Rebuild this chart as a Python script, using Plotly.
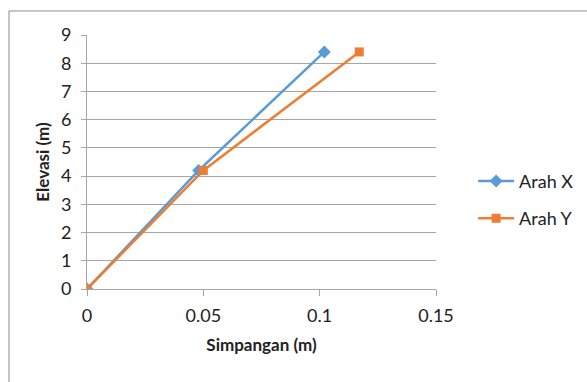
import plotly.graph_objects as go

x_arah_x = [0, 0.048, 0.102]
y_arah_x = [0, 4.2, 8.4]
x_arah_y = [0, 0.050, 0.117]
y_arah_y = [0, 4.2, 8.4]
x_ticks = [0, 0.05, 0.1, 0.15]
x_tick_labels = ["0", "0.05", "0.1", "0.15"]
y_ticks = list(range(0, 10))

FONT = "Lato"
fig = go.Figure()
fig.add_trace(go.Scatter(x=x_arah_x, y=y_arah_x, name="Arah X", mode="lines+markers",
                         line=dict(color="#5B9BD5", width=2.5),
                         marker=dict(symbol="diamond", size=10, color="#5B9BD5"),
                         legendgroup="a"))
fig.add_trace(go.Scatter(x=x_arah_y, y=y_arah_y, name="Arah Y", mode="lines+markers",
                         line=dict(color="#ED7D31", width=2.5),
                         marker=dict(symbol="square", size=9, color="#ED7D31"),
                         legendgroup="b"))

fig.update_layout(
    width=587, height=382,
    margin=dict(l=87, r=151, t=35, b=93),
    paper_bgcolor="white", plot_bgcolor="white",
    font=dict(family=FONT, size=17, color="#222"),
    legend=dict(xref="container", yref="container", x=0.806, y=0.574,
                xanchor="left", yanchor="top",
                traceorder="grouped", tracegroupgap=11,
                font=dict(family=FONT, size=18, color="#222"),
                itemwidth=36),
    xaxis=dict(range=[0, 0.15], tickvals=x_ticks, ticktext=x_tick_labels,
               showgrid=False, zeroline=False, showline=True, linecolor="#A6A6A6",
               linewidth=1, ticks="outside", ticklen=6, tickcolor="#A6A6A6",
               ticklabelstandoff=4,
               title=dict(text="<b>Simpangan (m)</b>", font=dict(family=FONT, size=17), standoff=14),
               tickfont=dict(family=FONT, size=18), fixedrange=True),
    yaxis=dict(range=[0, 9], tickvals=y_ticks,
               showgrid=True, gridcolor="#A6A6A6", gridwidth=1,
               zeroline=False, showline=True, linecolor="#A6A6A6", linewidth=1,
               ticks="outside", ticklen=5, tickcolor="#A6A6A6",
               ticklabelstandoff=6,
               title=dict(text="<b>Elevasi (m)</b>", font=dict(family=FONT, size=17), standoff=6),
               tickfont=dict(family=FONT, size=18), fixedrange=True),
    showlegend=True,
)
fig.update_xaxes(automargin=False)
fig.update_yaxes(automargin=False)
fig.add_shape(type="rect", xref="paper", yref="paper",
              x0=-0.2235, x1=2, y0=-2, y1=1.0945,
              line=dict(color="#8C8C8C", width=1), fillcolor="rgba(0,0,0,0)", layer="below")
fig.write_html("out.html")
